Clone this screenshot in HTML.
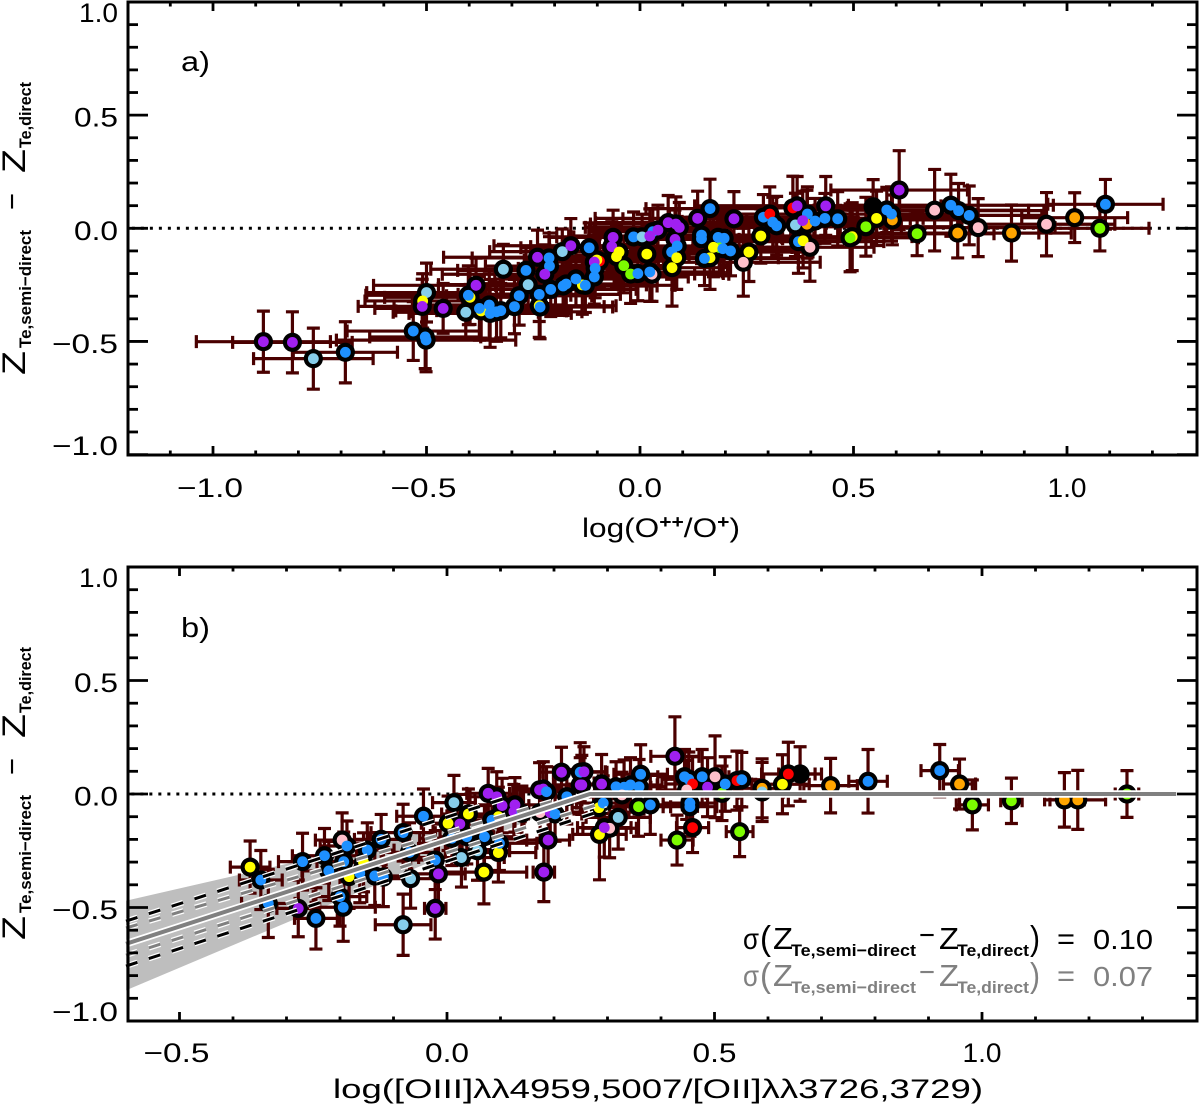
<!DOCTYPE html>
<html lang="en">
<head>
<meta charset="utf-8">
<title>Metallicity offset versus ionization</title>
<style>
html,body{margin:0;padding:0;background:#fff}
svg{display:block;font-family:"Liberation Sans",sans-serif}
text{fill:#000}
.gray-text{fill:#808080}
</style>
</head>
<body>
<svg id="chart" xmlns="http://www.w3.org/2000/svg" width="1200" height="1109" viewBox="0 0 1200 1109">
<rect width="1200" height="1109" fill="#fff"/>
<g id="panel-a"></g>
<g id="panel-b"></g>

<text x="181" y="71" font-size="28" textLength="29" lengthAdjust="spacingAndGlyphs">a)</text>
<text x="181" y="637" font-size="28" textLength="29" lengthAdjust="spacingAndGlyphs">b)</text>

<g transform="translate(25,375) rotate(-90)">
<text x="0" y="0" font-size="32" textLength="24" lengthAdjust="spacingAndGlyphs">Z</text>
<text x="27" y="6" font-size="17" font-weight="bold" textLength="118" lengthAdjust="spacingAndGlyphs">Te,semi−direct</text>
<text x="165" y="-3" font-size="30" textLength="17" lengthAdjust="spacingAndGlyphs">−</text>
<text x="202" y="0" font-size="32" textLength="24" lengthAdjust="spacingAndGlyphs">Z</text>
<text x="227" y="6" font-size="17" font-weight="bold" textLength="66" lengthAdjust="spacingAndGlyphs">Te,direct</text>
</g>
<g transform="translate(25,940) rotate(-90)">
<text x="0" y="0" font-size="32" textLength="24" lengthAdjust="spacingAndGlyphs">Z</text>
<text x="27" y="6" font-size="17" font-weight="bold" textLength="118" lengthAdjust="spacingAndGlyphs">Te,semi−direct</text>
<text x="165" y="-3" font-size="30" textLength="17" lengthAdjust="spacingAndGlyphs">−</text>
<text x="202" y="0" font-size="32" textLength="24" lengthAdjust="spacingAndGlyphs">Z</text>
<text x="227" y="6" font-size="17" font-weight="bold" textLength="66" lengthAdjust="spacingAndGlyphs">Te,direct</text>
</g>

<text x="582" y="537" font-size="27" textLength="158" lengthAdjust="spacingAndGlyphs">log(O<tspan dy="-9" font-size="18" font-weight="bold">++</tspan><tspan dy="9">/O</tspan><tspan dy="-9" font-size="18" font-weight="bold">+</tspan><tspan dy="9">)</tspan></text>
<text x="333" y="1098" font-size="27" textLength="650" lengthAdjust="spacingAndGlyphs">log([OIII]λλ4959,5007/[OII]λλ3726,3729)</text>

<g>
<text x="743" y="949" font-size="30" textLength="16" lengthAdjust="spacingAndGlyphs">σ</text>
<text x="760" y="950" font-size="34" textLength="11" lengthAdjust="spacingAndGlyphs">(</text>
<text x="773" y="949" font-size="31" textLength="20" lengthAdjust="spacingAndGlyphs">Z</text>
<text x="791" y="956" font-size="17" font-weight="bold" textLength="125" lengthAdjust="spacingAndGlyphs">Te,semi−direct</text>
<text x="919" y="945" font-size="30" textLength="16" lengthAdjust="spacingAndGlyphs">−</text>
<text x="939" y="949" font-size="31" textLength="20" lengthAdjust="spacingAndGlyphs">Z</text>
<text x="957" y="956" font-size="17" font-weight="bold" textLength="72" lengthAdjust="spacingAndGlyphs">Te,direct</text>
<text x="1030" y="950" font-size="34" textLength="10" lengthAdjust="spacingAndGlyphs">)</text>
<text x="1057" y="949" font-size="30" textLength="18" lengthAdjust="spacingAndGlyphs">=</text>
<text x="1093" y="949" font-size="28" textLength="60" lengthAdjust="spacingAndGlyphs">0.10</text>
</g>
<g>
<text class="gray-text" x="743" y="986" font-size="30" textLength="16" lengthAdjust="spacingAndGlyphs">σ</text>
<text class="gray-text" x="760" y="987" font-size="34" textLength="11" lengthAdjust="spacingAndGlyphs">(</text>
<text class="gray-text" x="773" y="986" font-size="31" textLength="20" lengthAdjust="spacingAndGlyphs">Z</text>
<text class="gray-text" x="791" y="993" font-size="17" font-weight="bold" textLength="125" lengthAdjust="spacingAndGlyphs">Te,semi−direct</text>
<text class="gray-text" x="919" y="982" font-size="30" textLength="16" lengthAdjust="spacingAndGlyphs">−</text>
<text class="gray-text" x="939" y="986" font-size="31" textLength="20" lengthAdjust="spacingAndGlyphs">Z</text>
<text class="gray-text" x="957" y="993" font-size="17" font-weight="bold" textLength="72" lengthAdjust="spacingAndGlyphs">Te,direct</text>
<text class="gray-text" x="1030" y="987" font-size="34" textLength="10" lengthAdjust="spacingAndGlyphs">)</text>
<text class="gray-text" x="1057" y="986" font-size="30" textLength="18" lengthAdjust="spacingAndGlyphs">=</text>
<text class="gray-text" x="1093" y="986" font-size="28" textLength="60" lengthAdjust="spacingAndGlyphs">0.07</text>
</g>
</svg>

<script>
// ---------- Panel a data ----------
const aX = [
-0.398,-0.372,-0.236,-0.135,-0.095,0.030,0.186,0.497,0.144,
-0.882,-0.814,-0.765,-0.690,-0.531,-0.503,-0.501,-0.500,-0.509,-0.510,
-0.461,-0.384,-0.402,-0.408,-0.376,-0.353,-0.351,-0.336,-0.326,-0.320,
-0.294,-0.283,-0.267,-0.262,-0.240,-0.213,-0.212,-0.223,-0.236,-0.234,
-0.209,-0.182,-0.162,-0.180,-0.173,-0.150,-0.128,-0.119,-0.101,-0.107,
-0.105,-0.107,-0.063,-0.066,-0.049,-0.055,-0.038,-0.022,-0.005,0.028,
0.023,0.016,-0.015,0.005,0.023,0.042,0.066,0.084,0.092,0.082,
0.087,0.074,0.086,0.075,0.135,0.164,0.144,0.183,0.197,0.172,
0.194,0.212,0.164,0.151,0.220,0.255,0.242,0.283,0.289,0.304,
0.311,0.320,0.358,0.368,0.392,0.364,0.391,0.381,0.410,0.433,
0.435,0.463,0.371,0.382,0.398,0.492,0.529,0.546,0.554,0.591,
0.578,0.589,0.607,0.649,0.690,0.728,0.746,0.771,0.744,0.792,
0.870,0.952,1.018,1.077,1.090];
const aY = [
-0.305,-0.365,-0.342,-0.250,-0.145,-0.015,-0.085,-0.037,-0.030,
-0.501,-0.504,-0.576,-0.548,-0.454,-0.480,-0.494,-0.284,-0.321,-0.345,
-0.354,-0.252,-0.296,-0.371,-0.354,-0.339,-0.376,-0.369,-0.364,-0.181,
-0.346,-0.298,-0.186,-0.249,-0.128,-0.131,-0.167,-0.203,-0.292,-0.348,
-0.270,-0.103,-0.077,-0.255,-0.246,-0.224,-0.252,-0.086,-0.140,-0.149,
-0.177,-0.215,-0.040,-0.081,-0.105,-0.125,-0.165,-0.202,-0.200,-0.203,
-0.193,-0.114,-0.038,-0.038,-0.034,-0.008,0.025,0.019,0.004,-0.049,
-0.078,-0.105,-0.130,-0.174,0.044,0.087,-0.046,-0.040,-0.044,-0.084,
-0.090,-0.100,-0.130,-0.133,0.042,-0.105,-0.150,-0.034,0.049,0.063,
0.027,0.011,0.090,0.099,0.063,0.015,0.018,0.034,0.032,0.044,
0.099,0.042,-0.059,-0.055,-0.084,-0.042,0.007,0.095,0.044,0.037,
0.081,0.063,0.169,-0.024,0.080,0.102,0.078,0.057,-0.021,0.003,
-0.021,0.018,0.047,0,0.106];
const aXErr = [
.2,.2,.18,.15,.15,.15,.17,.14,.15,
.157,.14,.14,.122,.155,.13,.21,.14,.135,.15,
.16,.24,.24,.17,.2,.18,.19,.2,.15,.17,
.21,.17,.16,.21,.22,.18,.15,.24,.19,.17,
.2,.17,.18,.22,.2,.19,.21,.16,.17,.15,
.18,.22,.15,.19,.14,.17,.13,.15,.2,.18,
.17,.14,.18,.16,.19,.15,.17,.2,.22,.15,
.2,.16,.14,.13,.24,.15,.19,.17,.21,.14,
.2,.18,.16,.22,.26,.15,.18,.15,.22,.17,
.2,.18,.19,.24,.17,.21,.18,.2,.16,.23,
.27,.17,.2,.16,.15,.16,.2,.18,.2,.16,
.17,.2,.16,.18,.22,.24,.2,.17,.19,.18,
.14,.16,.124,.115,.135];
const aYErr = [
.12,.12,.14,.13,.12,.1,.11,.15,.11,
.135,.135,.135,.135,.13,.14,.14,.13,.12,.12,
.11,.12,.13,.12,.14,.15,.15,.13,.12,.11,
.12,.13,.1,.12,.12,.11,.13,.13,.12,.14,
.12,.1,.12,.13,.11,.12,.12,.11,.13,.12,
.13,.12,.12,.11,.13,.14,.12,.13,.12,.12,
.13,.12,.11,.1,.12,.11,.12,.12,.11,.13,
.13,.12,.14,.17,.12,.13,.11,.1,.12,.13,
.12,.11,.14,.12,.12,.13,.15,.12,.1,.12,
.11,.13,.14,.13,.12,.14,.15,.13,.1,.11,
.13,.12,.14,.12,.15,.15,.13,.12,.12,.11,
.1,.12,.174,.097,.18,.137,.12,.13,.11,.128,
.124,.14,.11,.1,.11];
const aClass = (
"y y y y r b g y b " +
"p p s b b b b s y p " +
"p p b s b b b b b s " +
"b b b s p b b p b b " +
"b s p b b b b b y p " +
"b b p p y y g g b n " +
"b y b s p p p p p p " +
"b b y y p b b b b y " +
"b b y b p y n y b r " +
"b b r p b s o p b b " +
"p b b y n g g k y o " +
"b b p g n b b b o n " +
"o n o g b").split(" ");

// ---------- Panel b data ----------
const bX = [
-0.368,-0.348,-0.334,-0.278,-0.270,-0.245,-0.229,-0.221,-0.196,-0.187,
-0.193,-0.183,-0.200,-0.194,-0.163,-0.156,-0.149,-0.123,-0.135,-0.119,
-0.082,-0.070,-0.068,-0.082,-0.044,-0.022,-0.016,-0.022,0.013,0.002,
0.009,0.027,0.040,0.024,0.037,0.057,0.070,0.069,0.077,0.093,
0.103,0.096,0.084,0.096,0.098,0.127,0.125,0.140,0.173,0.180,
0.186,0.174,0.193,0.202,0.224,0.189,0.181,0.214,0.249,0.249,
0.256,0.252,0.289,0.316,0.331,0.343,0.359,0.362,0.284,0.292,
0.358,0.380,0.320,0.285,0.304,0.294,0.327,0.426,0.430,0.459,
0.454,0.454,0.444,0.452,0.459,0.448,0.477,0.501,0.487,0.514,
0.520,0.547,0.542,0.551,0.589,0.589,0.627,0.638,0.660,0.717,
0.787,0.921,0.958,0.982,1.055,1.154,1.179,1.271];
const bY = [
-0.322,-0.379,-0.482,-0.504,-0.298,-0.548,-0.272,-0.339,-0.203,-0.229,
-0.298,-0.364,-0.452,-0.499,-0.349,-0.301,-0.247,-0.200,-0.361,-0.366,
-0.170,-0.257,-0.373,-0.576,-0.098,-0.504,-0.352,-0.291,-0.038,-0.129,
-0.195,-0.280,-0.088,-0.132,-0.188,-0.250,-0.188,-0.344,0.003,-0.012,
-0.051,-0.100,-0.115,-0.258,-0.217,-0.048,-0.078,-0.085,0.018,0.022,
0.010,-0.082,-0.082,-0.088,-0.012,-0.203,-0.344,0.096,0.096,0.040,
0.098,0.040,0.044,0.032,0.030,0.040,0.032,0.087,-0.060,-0.040,
-0.056,-0.048,-0.103,-0.178,-0.151,-0.148,-0.004,0.166,-0.203,-0.148,
-0.056,-0.040,0.076,0.065,0.044,0.018,0.076,0.076,0.030,0.003,
0.044,-0.166,0.059,0.063,0.025,0.009,0.043,0.088,0.088,0.037,
0.056,0.103,0.044,-0.048,-0.030,-0.026,-0.026,0];
const bXErr = [
.037,.04,.05,.04,.045,.04,.06,.05,.05,.05,
.05,.04,.05,.06,.05,.04,.05,.05,.06,.05,
.06,.05,.05,.052,.05,.02,.05,.06,.04,.05,
.06,.08,.05,.05,.05,.06,.07,.08,.04,.05,
.05,.05,.06,.07,.07,.05,.05,.05,.05,.05,
.05,.05,.06,.05,.05,.04,.02,.04,.05,.05,
.04,.05,.05,.04,.05,.05,.05,.05,.05,.05,
.06,.06,.06,.05,.05,.05,.05,.045,.03,.03,
.05,.05,.05,.05,.05,.05,.05,.05,.05,.03,
.05,.025,.05,.04,.04,.04,.05,.05,.04,.05,
.036,.035,.03,.03,.02,.037,.052,.022];
const bYErr = [
.115,.13,.15,.125,.125,.135,.12,.13,.12,.11,
.13,.14,.13,.15,.13,.13,.12,.11,.13,.13,
.125,.13,.13,.135,.12,.135,.14,.13,.12,.12,
.12,.13,.11,.13,.12,.13,.14,.14,.11,.11,
.12,.13,.13,.13,.12,.12,.12,.12,.12,.12,
.11,.12,.12,.12,.12,.14,.13,.11,.13,.12,
.11,.13,.13,.11,.12,.12,.12,.13,.13,.12,
.13,.13,.14,.2,.13,.13,.1,.174,.11,.11,
.13,.13,.12,.12,.12,.13,.12,.18,.13,.12,
.12,.11,.13,.12,.13,.13,.13,.14,.12,.12,
.14,.115,.11,.11,.1,.12,.13,.103];
const bClass = (
"y b b p b b b b n b " +
"b y b b b y b b b b " +
"b b s s b p p b s y " +
"b s y p b s b y p p " +
"p y b y b p p b p p " +
"b n p b b p p p b p " +
"p p p b b b b b y b " +
"g b s y n p n p g r " +
"b b b b r n b n p g " +
"b g r b o s y r k o " +
"b b o g g o o g").split(" ");

// ---------- Fit in panel b ----------
const fitX = [-0.6, 0.267, 1.363];
const fitY = [-0.66, 0, 0];
const bandUpperX = [-0.6, 0.27];
const bandUpperY = [-0.47, 0];
const bandLowerX = [-0.6, 0.27];
const bandLowerY = [-0.865, 0];
const dashUpperBlackX = [-0.6, 0.12];
const dashUpperBlackY = [-0.56, -0.01];
const dashUpperGrayX = [-0.6, 0.2];
const dashUpperGrayY = [-0.59, -0.03];
const dashLowerGrayX = [-0.6, 0.29];
const dashLowerGrayY = [-0.71, -0.04];
const dashLowerBlackX = [-0.6, 0.3];
const dashLowerBlackY = [-0.758, -0.065];

// ---------- Tick labels ----------
const yTickValues = [-1, -0.5, 0, 0.5, 1];
const yTickLabels = ["−1.0", "−0.5", "0.0", "0.5", "1.0"];
const aXTickValues = [-1, -0.5, 0, 0.5, 1];
const aXTickLabels = ["−1.0", "−0.5", "0.0", "0.5", "1.0"];
const bXTickValues = [-0.5, 0, 0.5, 1];
const bXTickLabels = ["−0.5", "0.0", "0.5", "1.0"];

// ---------- Axis functions ----------
const xA = v => 640 + 427 * v;
const yA = v => 228.3 - 226.3 * v;
const xB = v => 447 + 535 * v;
const yB = v => 794 - 227 * v;

const palette = {p:"#a020f0", b:"#1e90ff", s:"#87ceeb", y:"#ffff00", g:"#7cfc00", o:"#ffa500", n:"#ffc0cb", r:"#ff0000", k:"#000000"};
const colorNames = {p:"purple", b:"blue", s:"skyblue", y:"yellow", g:"green", o:"orange", n:"pink", r:"red", k:"black"};
const errColor = "#4a0000";
const NS = "http://www.w3.org/2000/svg";

function mk(tag, attrs, parent) {
  const el = document.createElementNS(NS, tag);
  for (const k in attrs) el.setAttribute(k, attrs[k]);
  parent.appendChild(el);
  return el;
}

function drawFrame(parent, left, right, top, bottom, xs, ys, prefix, xMin, xMax) {
  const frame = mk("rect", {x:left, y:top, width:right-left, height:bottom-top, fill:"none", stroke:"#000", "stroke-width":3}, parent);
  
  
  const ticks = mk("g", {stroke:"#000", "stroke-width":2.8, fill:"none"}, parent);
  
  
  for (let i = -10; i <= 10; i++) {
    const y = ys(i / 10);
    const len = i % 5 === 0 ? 20 : 10;
    mk("line", {x1:left, x2:left+len, y1:y, y2:y}, ticks);
    mk("line", {x1:right, x2:right-len, y1:y, y2:y}, ticks);
  }
  for (let i = Math.round(xMin * 10); i <= Math.round(xMax * 10); i++) {
    const x = xs(i / 10);
    const len = i % 5 === 0 ? 9 : 4.5;
    mk("line", {x1:x, x2:x, y1:bottom, y2:bottom-len}, ticks);
    mk("line", {x1:x, x2:x, y1:top, y2:top+len}, ticks);
  }
}

function yTickBaseline(y, top, bottom) {
  return Math.max(top + 20, Math.min(bottom, y + 11.5));
}

function tickLabels(parent, values, labels, prefix, isY, scale, pos, pos2) {
  values.forEach((v, i) => {
    const neg = labels[i].charAt(0) === "−";
    const w = labels[i] === "1.0" ? 39 : (neg ? 66 : 44);
    const attrs = isY
      ? {x:118, y:yTickBaseline(scale(v), pos, pos2), "text-anchor":"end"}
      : {x:scale(v) - (neg ? 3 : 0), y:pos, "text-anchor":"middle"};
    attrs["font-size"] = 27;
    attrs["textLength"] = w;
    attrs["lengthAdjust"] = "spacingAndGlyphs";
    const t = mk("text", attrs, parent);
    t.textContent = labels[i];
    
    
  });
}

function drawPoints(parent, X, Y, XE, YE, C, xs, ys, prefix) {
  const bars = mk("g", {stroke:errColor, "stroke-width":3.2, fill:"none"}, parent);
  
  
  X.forEach((v, i) => {
    const cx = xs(v), cy = ys(Y[i]);
    const x0 = xs(v - XE[i]), x1 = xs(v + XE[i]);
    const y0 = ys(Y[i] - YE[i]), y1 = ys(Y[i] + YE[i]);
    const d = `M${x0} ${cy}H${x1}M${x0} ${cy-6.5}V${cy+6.5}M${x1} ${cy-6.5}V${cy+6.5}` +
              `M${cx} ${y0}V${y1}M${cx-6.5} ${y0}H${cx+6.5}M${cx-6.5} ${y1}H${cx+6.5}`;
    const bar = mk("path", {d:d}, bars);
    
    
  });
  const halos = mk("g", {fill:"#000"}, parent);
  
  
  X.forEach((v, i) => {
    const halo = mk("circle", {cx:xs(v), cy:ys(Y[i]), r:9.6}, halos);
    
    
  });
  const fills = mk("g", {}, parent);
  
  
  X.forEach((v, i) => {
    const dot = mk("circle", {cx:xs(v), cy:ys(Y[i]), r:5.4, fill:palette[C[i]]}, fills);
    
    
  });
}

function zeroLine(parent, xs, ys, x0, x1, prefix) {
  const l = mk("line", {x1:xs(x0), x2:xs(x1), y1:ys(0), y2:ys(0), stroke:"#000", "stroke-width":3, "stroke-dasharray":"3 6"}, parent);
  
  
}

function dashLine(parent, X, Y, color, name) {
  const p = {x1:xB(X[0]), y1:yB(Y[0]), x2:xB(X[1]), y2:yB(Y[1]), "stroke-dasharray":"12 12"};
  const w = mk("line", Object.assign({stroke:"#fff", "stroke-width":5.5}, p), parent);
  
  
  const c = mk("line", Object.assign({stroke:color, "stroke-width":3}, p), parent);
  
  
}

// ---------- Panel a ----------
const gA = document.getElementById("panel-a");
zeroLine(gA, xA, yA, -1.19, 1.29, "panel-a");
drawPoints(gA, aX, aY, aXErr, aYErr, aClass, xA, yA, "panel-a");
drawFrame(gA, 128, 1197, 2, 455, xA, yA, "panel-a", -1.1, 1.2);
tickLabels(gA, yTickValues, yTickLabels, "panel-a-y", true, yA, 2, 455);
tickLabels(gA, aXTickValues, aXTickLabels, "panel-a-x", false, xA, 497);

// ---------- Panel b ----------
const gB = document.getElementById("panel-b");
const band = mk("polygon", {
  points: `${xB(bandUpperX[0])},${yB(bandUpperY[0])} ${xB(bandUpperX[1])},${yB(bandUpperY[1])} ${xB(bandLowerX[1])},${yB(bandLowerY[1])} ${xB(bandLowerX[0])},${yB(bandLowerY[0])}`,
  fill:"#bebebe"
}, gB);


zeroLine(gB, xB, yB, -0.59, 0.3, "panel-b");
drawPoints(gB, bX, bY, bXErr, bYErr, bClass, xB, yB, "panel-b");
dashLine(gB, dashUpperBlackX, dashUpperBlackY, "#000", "fit-upper-black-dashed-line");
dashLine(gB, dashUpperGrayX, dashUpperGrayY, "#808080", "fit-upper-gray-dashed-line");
dashLine(gB, dashLowerGrayX, dashLowerGrayY, "#808080", "fit-lower-gray-dashed-line");
dashLine(gB, dashLowerBlackX, dashLowerBlackY, "#000", "fit-lower-black-dashed-line");
const fitPts = fitX.map((v, i) => xB(v) + "," + yB(fitY[i])).join(" ");
const fitHalo = mk("polyline", {points:fitPts, fill:"none", stroke:"#fff", "stroke-width":7.5}, gB);


const fitLine = mk("polyline", {points:fitPts, fill:"none", stroke:"#808080", "stroke-width":4}, gB);


drawFrame(gB, 128, 1197, 567, 1021, xB, yB, "panel-b", -0.5, 1.3);
tickLabels(gB, yTickValues, yTickLabels, "panel-b-y", true, yB, 567, 1021);
tickLabels(gB, bXTickValues, bXTickLabels, "panel-b-x", false, xB, 1062);
</script>
</body>
</html>
